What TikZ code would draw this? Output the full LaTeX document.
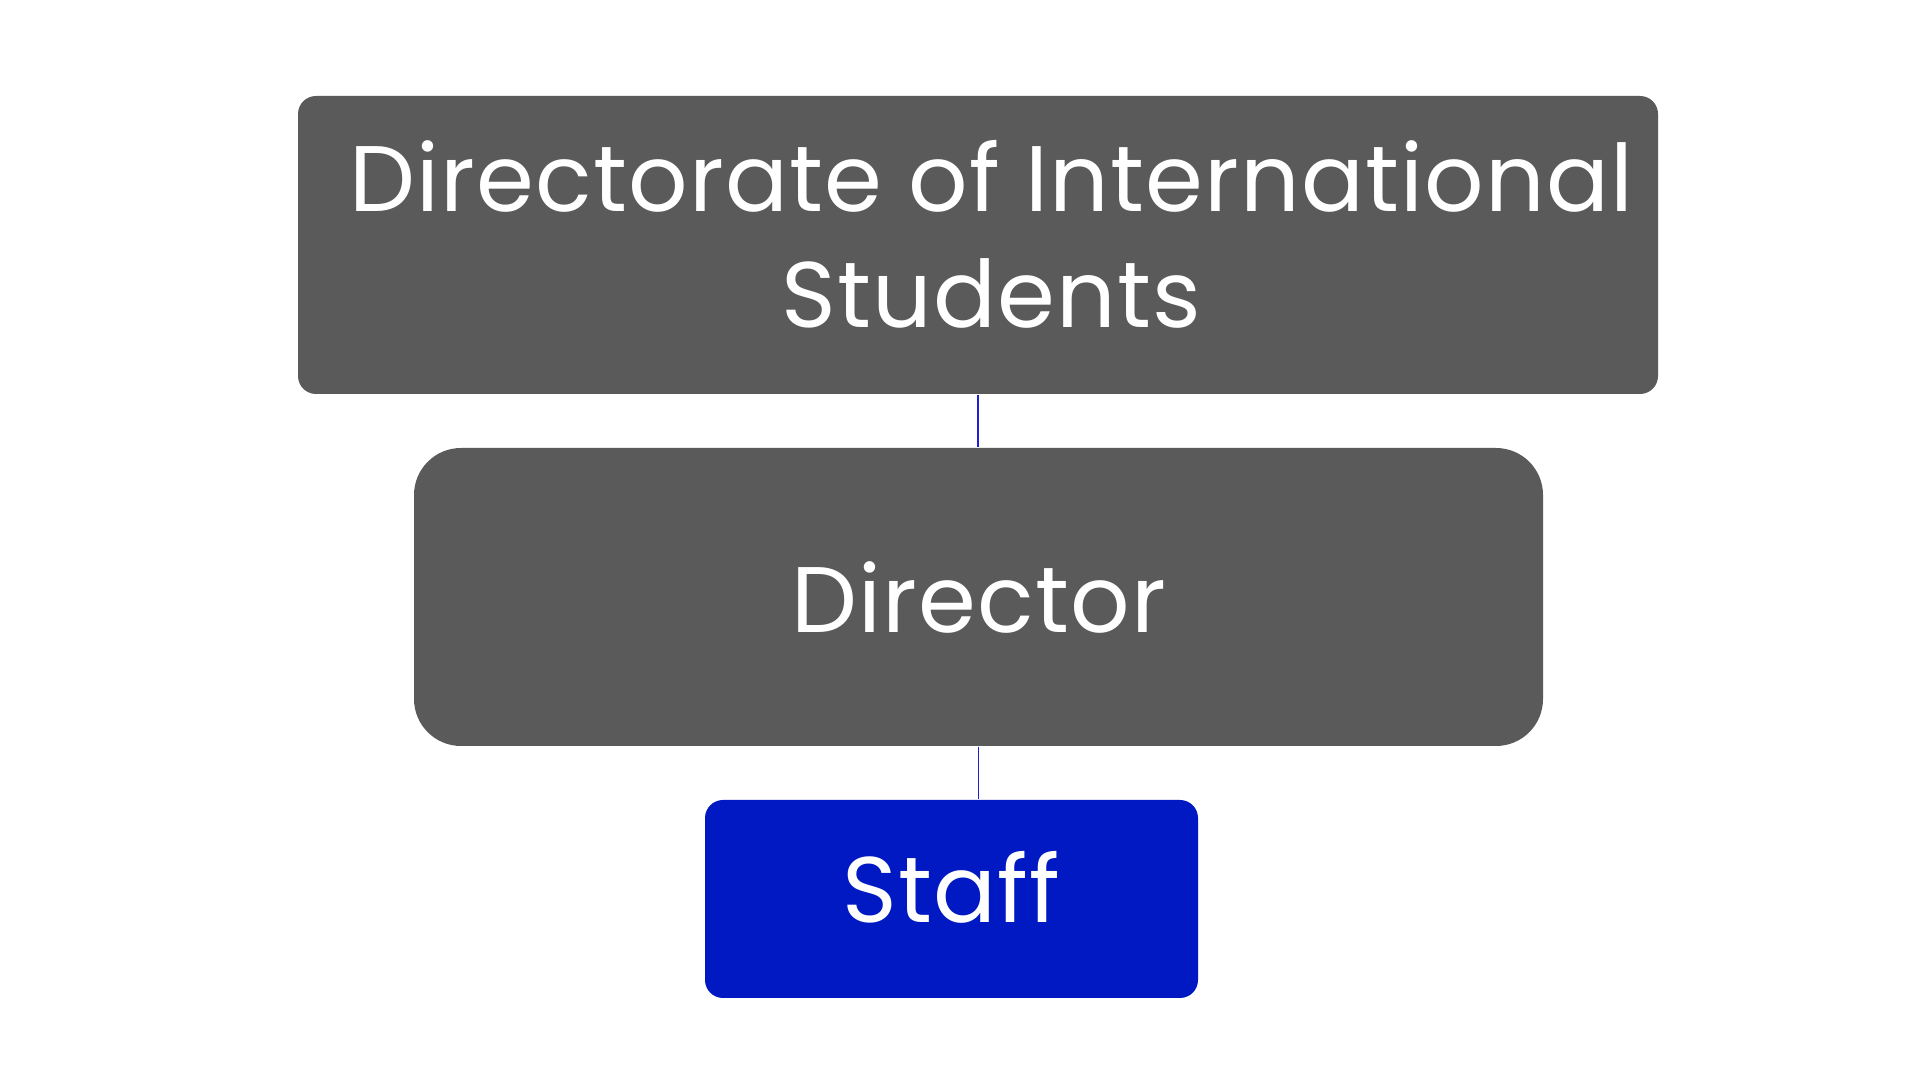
\documentclass[tikz,border=0pt]{standalone}
\usepackage{fontspec}
\setmainfont[LetterSpace=1.3]{Poppins}
\usetikzlibrary{positioning}
\definecolor{boxgray}{HTML}{5A5A5A}
\definecolor{staffblue}{HTML}{0019C2}
\definecolor{lineblue}{RGB}{30,30,210}

\begin{document}
\begin{tikzpicture}
[font=\fontsize{26.5}{33}\selectfont, line width=0.4pt,
unit0/.style={rectangle, rounded corners=1.8mm, fill=boxgray, text=white, inner sep=0pt, minimum width=136mm, minimum height=29.8mm},
unit1/.style={rectangle, rounded corners=4.7mm, fill=boxgray, text=white, inner sep=0pt, minimum width=112.9mm, minimum height=29.8mm},
unit2/.style={rectangle, rounded corners=1.8mm, fill=staffblue, text=white, inner sep=0pt, minimum width=49.3mm, minimum height=19.8mm},
caption/.style={text=white, align=center},
link/.style={draw=lineblue, line width=0.4pt}]

\useasboundingbox (0,0) rectangle (19.20,10.80);

\node[unit0, label={[caption, xshift=1.35mm, yshift=1.1mm]center:Directorate of International\\Students}] (dis) at (9.78,8.35) {};
\node[unit1] (director) at (9.785,4.83) {Director};
\node[unit2, label={[caption, yshift=1.2mm]center:Staff}] (staff) at (9.515,1.81) {};

\draw[link] (dis.south) -- (dis.south |- director.north);
\draw[link] (director.south) -- (director.south |- staff.north);
\end{tikzpicture}
\end{document}
